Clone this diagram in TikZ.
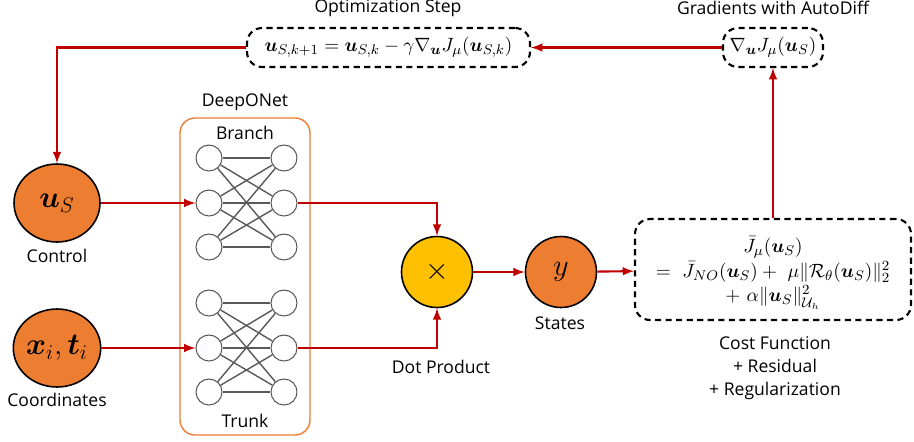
\documentclass[tikz,border=0pt]{standalone}
\usepackage{amsmath}
\usepackage{amssymb}
\usepackage{bm}
\usepackage{fontspec}
\newfontfamily\labelfont{Open Sans}
\usetikzlibrary{shapes.geometric}
\definecolor{flowred}{HTML}{C00000}
\definecolor{varorange}{HTML}{ED7D31}
\definecolor{prodyellow}{HTML}{FFC000}

\begin{document}
\begin{tikzpicture}[
x=0.02cm, y=-0.02cm,
flow/.style={-latex, draw=flowred, line width=1.2pt},
var/.style={
  ellipse, draw, line width=0.9pt, fill=varorange,
  minimum width=1.72cm, minimum height=1.56cm, inner sep=0pt
  },
neuron/.style={
  circle, draw=black!65, fill=white, line width=0.6pt,
  minimum size=0.52cm, inner sep=0pt
  },
weight/.style={draw=black!65, line width=0.8pt},
dashbox/.style={
  draw, dash pattern=on 3.5pt off 2.5pt, line width=1.2pt,
  rounded corners=0.3cm, inner sep=0pt,
  font=\fontsize{11}{14}\selectfont, align=center
  },
lab/.style={font=\labelfont\fontsize{10}{13}\selectfont, align=center}
]
\useasboundingbox (0,0) rectangle (914,441);

% inputs
\node[var, font=\LARGE] (u) at (57,203) {$\bm{u}_S$};
\node[var, font=\LARGE] (x) at (57,348) {$\bm{x}_i,\bm{t}_i$};
\node[lab] (ctrl) at (57,256) {Control};
\node[lab] (coord) at (57,400) {Coordinates};

% DeepONet
\draw[draw=varorange, line width=0.8pt, rounded corners=0.3cm] (180,118) rectangle (310,435);
\node[lab] (onet) at (245,102) {DeepONet};
\node[lab] (branch) at (245,133) {Branch};
\node[lab] (trunk) at (245,421) {Trunk};
\foreach \i/\y in {1/158,2/203,3/247}
  {
  \node[neuron] (bl\i) at (209,\y) {};
  \node[neuron] (br\i) at (284,\y) {};
  }
\foreach \i/\y in {1/303,2/348,3/392}
  {
  \node[neuron] (tl\i) at (209,\y) {};
  \node[neuron] (tr\i) at (284,\y) {};
  }
\foreach \i in {1,2,3}
  \foreach \j in {1,2,3}
    {
    \draw[weight] (bl\i) -- (br\j);
    \draw[weight] (tl\i) -- (tr\j);
    }

% product and states
\node[circle, draw, line width=0.9pt, fill=prodyellow, minimum size=1.42cm, inner sep=0pt, font=\LARGE] (prod) at (437,272) {$\times$};
\node[lab] (dot) at (441,367) {Dot Product};
\node[circle, draw, line width=0.9pt, fill=varorange, minimum size=1.42cm, inner sep=0pt, font=\LARGE] (y) at (561,272) {$y$};
\node[lab] (states) at (560,323) {States};

% cost, gradients, optimization
\node[dashbox, minimum width=5.52cm, minimum height=2.02cm] (cost) at (773,269.5) {};
\node[font=\fontsize{11}{14}\selectfont, align=center] (costeq) at (773,273)
  {$\bar{J}_\mu(\bm{u}_S)$\\
   $=\ \bar{J}_{NO}(\bm{u}_S) +\ \mu\|\mathcal{R}_\theta(\bm{u}_S)\|_2^2$\\
   $+\ \alpha\|\bm{u}_S\|_{\mathcal{U}_h}^2$};
\node[lab] (costlab) at (775,368) {Cost Function\\+ Residual\\+ Regularization};
\node[dashbox, minimum width=2cm, minimum height=0.78cm] (grad) at (773,47.5)
  {$\nabla_{\bm{u}} J_\mu(\bm{u}_S)$};
\node[lab] (gradlab) at (773,8) {Gradients with AutoDiff};
\node[dashbox, minimum width=5.66cm, minimum height=0.78cm] (opt) at (388.5,47.5)
  {$\bm{u}_{S,k+1} = \bm{u}_{S,k} - \gamma\nabla_{\bm{u}} J_\mu(\bm{u}_{S,k})$};
\node[lab] (optlab) at (388,8) {Optimization Step};

% flow
\draw[flow] (u) -- (bl2);
\draw[flow] (x) -- (tl2);
\draw[flow] (br2) -| (prod);
\draw[flow] (tr2) -| (prod);
\draw[flow] (prod) -- (y);
\draw[flow] (y) -- (cost);
\draw[flow] (cost) -- (grad);
\draw[flow] (grad) -- (opt);
\draw[flow] (opt) -| (u);
\end{tikzpicture}
\end{document}
